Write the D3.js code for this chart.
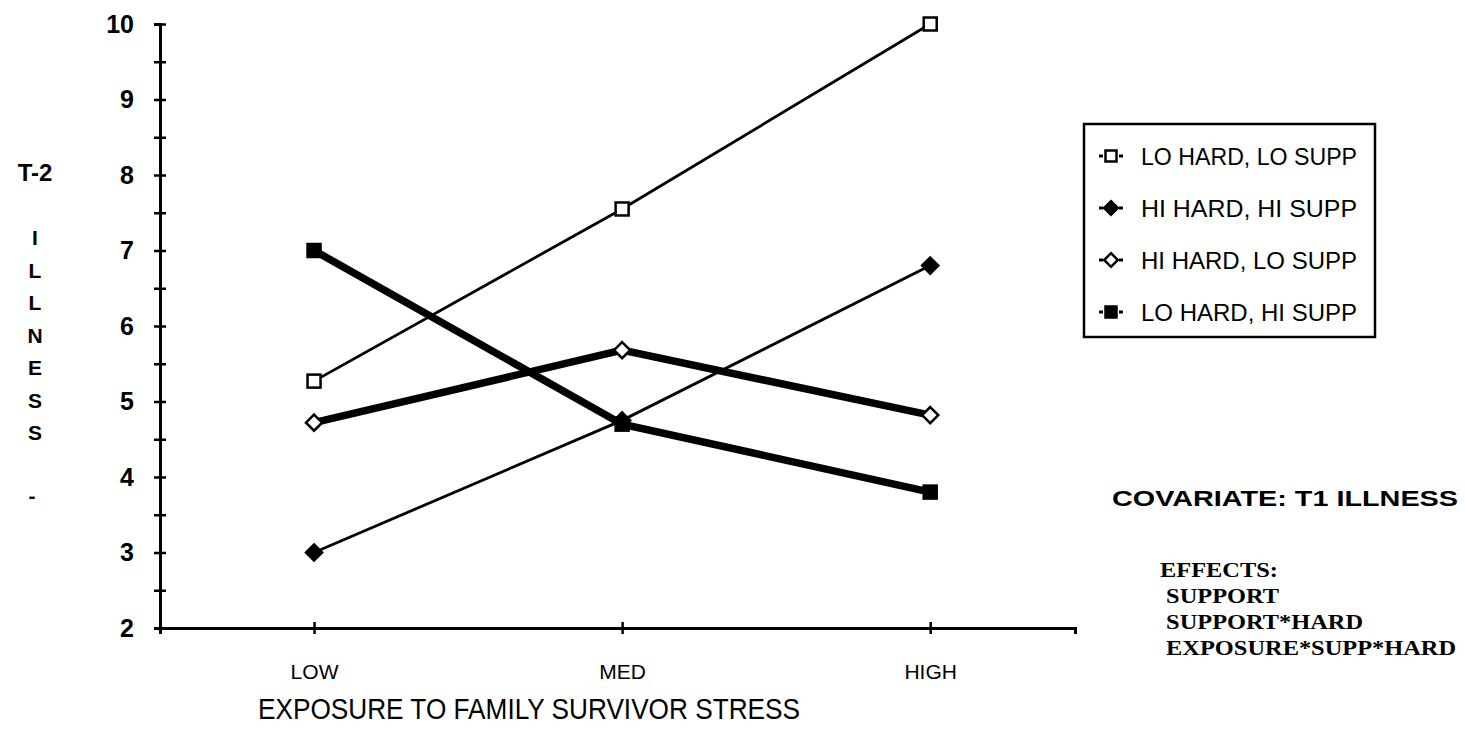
<!DOCTYPE html>
<html>
<head>
<meta charset="utf-8">
<script src="https://cdn.jsdelivr.net/npm/d3@7"></script>
<style>
  body { margin: 0; background: #fff; }
  svg { display: block; }
</style>
</head>
<body>
<div id="chart"></div>
<script>
// ---- data ----
const categories = ["LOW", "MED", "HIGH"];
const yTicks = [2, 3, 4, 5, 6, 7, 8, 9, 10];
const loHardLoSupp = [5.27, 7.55, 10.0];
const hiHardHiSupp = [3.0, 4.75, 6.8];
const hiHardLoSupp = [4.72, 5.68, 4.82];
const loHardHiSupp = [7.0, 4.7, 3.8];
const seriesNames = ["LO HARD, LO SUPP", "HI HARD, HI SUPP", "HI HARD, LO SUPP", "LO HARD, HI SUPP"];
const effects = ["EFFECTS:", " SUPPORT", " SUPPORT*HARD", " EXPOSURE*SUPP*HARD"];

const series = [
  { name: seriesNames[0], values: loHardLoSupp, shape: "square", fill: "#fff", thick: false },
  { name: seriesNames[1], values: hiHardHiSupp, shape: "diamond", fill: "#000", thick: false },
  { name: seriesNames[2], values: hiHardLoSupp, shape: "diamond", fill: "#fff", thick: true },
  { name: seriesNames[3], values: loHardHiSupp, shape: "square", fill: "#000", thick: true }
];

const width = 1465, height = 733;
const svg = d3.select("#chart").append("svg")
  .attr("width", width).attr("height", height)
  .style("font-family", "'Liberation Sans', Arial, sans-serif");

// scales
const x = d3.scaleLinear().domain([-0.5, 2.47]).range([160, 1075]);
const y = d3.scaleLinear().domain([2, 10]).range([628, 24]);

// y axis, ticks every half unit crossing the line
const yAxis = svg.append("g").attr("transform", `translate(${x(-0.5)},0)`)
  .call(d3.axisLeft(y).tickValues(d3.range(2, 10.01, 0.5))
    .tickSize(6).tickPadding(20)
    .tickFormat(d => Number.isInteger(d) ? d : ""));
yAxis.select(".domain").attr("stroke-width", 3);
yAxis.selectAll(".tick line").attr("x1", 6).attr("stroke-width", 2.5);
yAxis.selectAll(".tick text")
  .style("font-size", "25px").style("font-weight", "bold").attr("fill", "#000");

// x axis
const xAxis = svg.append("g").attr("transform", `translate(0,${y(2)})`)
  .call(d3.axisBottom(x).tickValues([0, 1, 2]).tickSize(6).tickPadding(30)
    .tickFormat(i => categories[i]));
xAxis.select(".domain").attr("stroke-width", 3);
xAxis.selectAll(".tick line").attr("y1", -6).attr("stroke-width", 2.5);
xAxis.selectAll(".tick text").style("font-size", "21px").attr("fill", "#000");

// axis titles
svg.append("text").attr("x", 529).attr("y", 719).attr("text-anchor", "middle")
  .style("font-size", "30px").attr("textLength", 542).attr("lengthAdjust", "spacingAndGlyphs")
  .text("EXPOSURE TO FAMILY SURVIVOR STRESS");

svg.append("text").attr("x", 35).attr("y", 181).attr("text-anchor", "middle")
  .style("font-size", "24px").style("font-weight", "bold").text("T-2");
const yLetters = "ILLNESS".split("");
svg.append("g").selectAll("text").data(yLetters).join("text")
  .attr("x", 35).attr("y", (d, i) => 245 + i * 32.5).attr("text-anchor", "middle")
  .style("font-size", "21px").style("font-weight", "bold").text(d => d);
svg.append("text").attr("x", 32).attr("y", 503).attr("text-anchor", "middle")
  .style("font-size", "21px").style("font-weight", "bold").text("-");

// markers
function marker(sel, s, size) {
  if (s.shape === "square") {
    sel.append("rect").attr("x", -size / 2).attr("y", -size / 2)
      .attr("width", size).attr("height", size)
      .attr("fill", s.fill).attr("stroke", "#000").attr("stroke-width", 2.5);
  } else {
    const h = size * 0.62;
    sel.append("path").attr("d", `M0,${-h}L${h},0L0,${h}L${-h},0Z`)
      .attr("fill", s.fill).attr("stroke", "#000").attr("stroke-width", 2.5);
  }
}

const line = d3.line().x((d, i) => x(i)).y(d => y(d));

// thin lines first, then thick
series.forEach(s => {
  svg.append("path").datum(s.values).attr("d", line)
    .attr("fill", "none").attr("stroke", "#000")
    .attr("stroke-width", s.thick ? 7.5 : 2.8);
});
series.forEach(s => {
  s.values.forEach((v, i) => {
    const g = svg.append("g").attr("transform", `translate(${x(i)},${y(v)})`);
    marker(g, s, 13);
  });
});

// legend
const legend = svg.append("g");
legend.append("rect").attr("x", 1084).attr("y", 124).attr("width", 291).attr("height", 213)
  .attr("fill", "#fff").attr("stroke", "#000").attr("stroke-width", 2.5);
series.forEach((s, i) => {
  const ly = 156 + i * 52;
  const g = legend.append("g").attr("transform", `translate(1111,${ly})`);
  g.append("line").attr("x1", -12).attr("x2", 12).attr("stroke", "#000")
    .attr("stroke-width", 3).attr("stroke-dasharray", "4,16");
  marker(g, s, 11);
  legend.append("text").attr("x", 1141).attr("y", ly + 9)
    .style("font-size", "24px").attr("textLength", 216).attr("lengthAdjust", "spacingAndGlyphs")
    .text(s.name);
});

// covariate note
svg.append("text").attr("x", 1112).attr("y", 506)
  .style("font-size", "22px").style("font-weight", "bold")
  .attr("textLength", 346).attr("lengthAdjust", "spacingAndGlyphs")
  .text("COVARIATE: T1 ILLNESS");
svg.append("g").attr("transform", "translate(1160,0) scale(1.22,1)")
  .selectAll("text").data(effects).join("text")
  .attr("x", 0).attr("y", (d, i) => 577 + i * 26)
  .style("font-family", "'Liberation Serif', 'Times New Roman', serif")
  .style("font-size", "20px").style("font-weight", "bold")
  .attr("xml:space", "preserve").style("white-space", "pre")
  .text(d => d);
</script>
</body>
</html>
